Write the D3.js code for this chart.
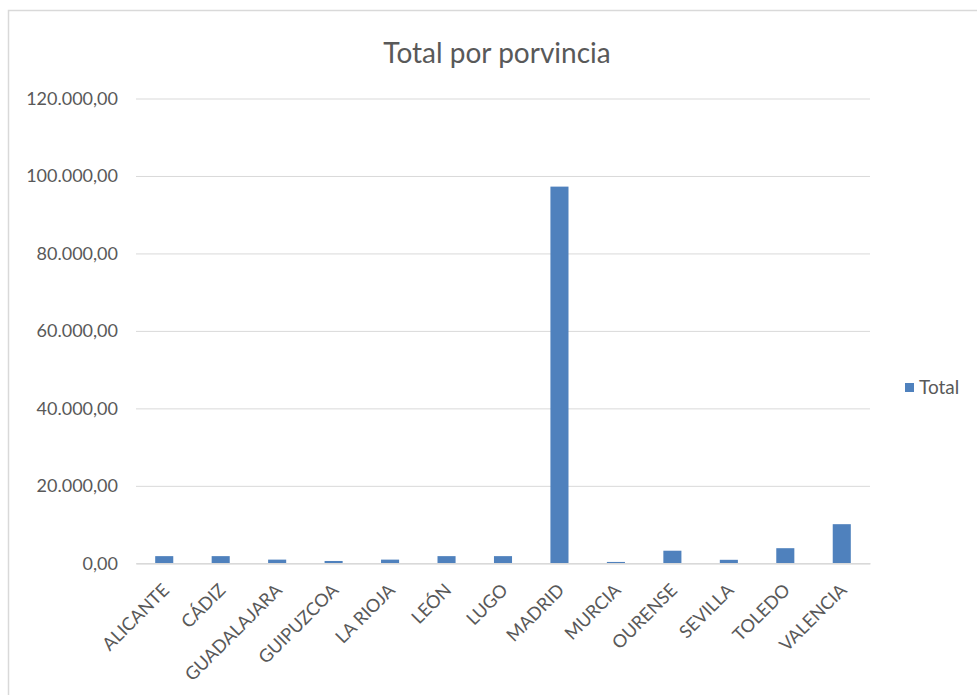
<!DOCTYPE html>
<html>
<head>
<meta charset="utf-8">
<script src="https://cdn.jsdelivr.net/npm/d3@7"></script>
<style>
  html, body { margin: 0; padding: 0; background: #fff; }
  svg { display: block; }
</style>
</head>
<body>
<svg id="chart"></svg>
<script>
// datos
const provincias = ["ALICANTE", "CÁDIZ", "GUADALAJARA", "GUIPUZCOA", "LA RIOJA", "LEÓN", "LUGO",
  "MADRID", "MURCIA", "OURENSE", "SEVILLA", "TOLEDO", "VALENCIA"];
const totales = [1850, 1850, 950, 600, 950, 1850, 1850, 97250, 350, 3250, 900, 3900, 10100];
const yTicks = [0, 20000, 40000, 60000, 80000, 100000, 120000];
const serieNombre = "Total";
const titulo = "Total por porvincia";

const width = 977, height = 695;
const BarColor = "#4F81BD";
const GridColor = "#D9D9D9";
const TextColor = "#595959";
const Font = "Lato, 'Open Sans', sans-serif";

const margin = { top: 98.5, right: 107, bottom: 131.7, left: 136 };

const es = d3.formatLocale({ decimal: ",", thousands: ".", grouping: [3], currency: ["", "€"] });
const fmt = es.format(",.2f");

const svg = d3.select("#chart").attr("width", width).attr("height", height);

// marco del gráfico
svg.append("rect")
  .attr("x", 8.5).attr("y", 10.5)
  .attr("width", width + 20).attr("height", height + 20)
  .attr("fill", "#fff").attr("stroke", GridColor).attr("stroke-width", 1.5);

const x = d3.scaleBand()
  .domain(provincias)
  .range([margin.left, width - margin.right])
  .paddingInner(0.68)
  .paddingOuter(0.34);

const y = d3.scaleLinear()
  .domain([0, 120000])
  .range([height - margin.bottom, margin.top]);

// título
svg.append("text")
  .attr("x", 497).attr("y", 63)
  .attr("text-anchor", "middle")
  .attr("font-family", Font).attr("font-size", 28)
  .attr("fill", TextColor)
  .text(titulo);

// eje y con líneas de cuadrícula
const yAxis = svg.append("g")
  .attr("transform", `translate(${margin.left},0)`)
  .call(d3.axisLeft(y).tickValues(yTicks).tickFormat(fmt)
    .tickSize(-(width - margin.left - margin.right)).tickPadding(18));
yAxis.select(".domain").remove();
yAxis.selectAll(".tick line").attr("stroke", GridColor).attr("stroke-width", 1);
yAxis.selectAll(".tick text")
  .attr("font-family", Font).attr("font-size", 18).attr("fill", TextColor);

// barras
svg.append("g").selectAll("rect")
  .data(provincias)
  .join("rect")
  .attr("x", d => x(d))
  .attr("y", (d, i) => y(totales[i]))
  .attr("width", x.bandwidth())
  .attr("height", (d, i) => y(0) - y(totales[i]))
  .attr("fill", BarColor);

// eje x
const xAxis = svg.append("g")
  .attr("transform", `translate(0,${y(0)})`)
  .call(d3.axisBottom(x).tickSize(0).tickSizeOuter(0));
xAxis.select(".domain").attr("stroke", GridColor).attr("stroke-width", 1.5);
xAxis.selectAll(".tick text")
  .attr("font-family", Font).attr("font-size", 18).attr("fill", TextColor)
  .attr("text-anchor", "end")
  .attr("dy", null).attr("y", 0)
  .attr("transform", "translate(6,28) rotate(-45)");

// leyenda
const legend = svg.append("g").attr("transform", "translate(905,383)");
legend.append("rect").attr("width", 9).attr("height", 9).attr("fill", BarColor);
legend.append("text")
  .attr("x", 14).attr("y", 4.5).attr("dy", "0.35em")
  .attr("font-family", Font).attr("font-size", 19).attr("fill", TextColor)
  .text(serieNombre);
</script>
</body>
</html>
